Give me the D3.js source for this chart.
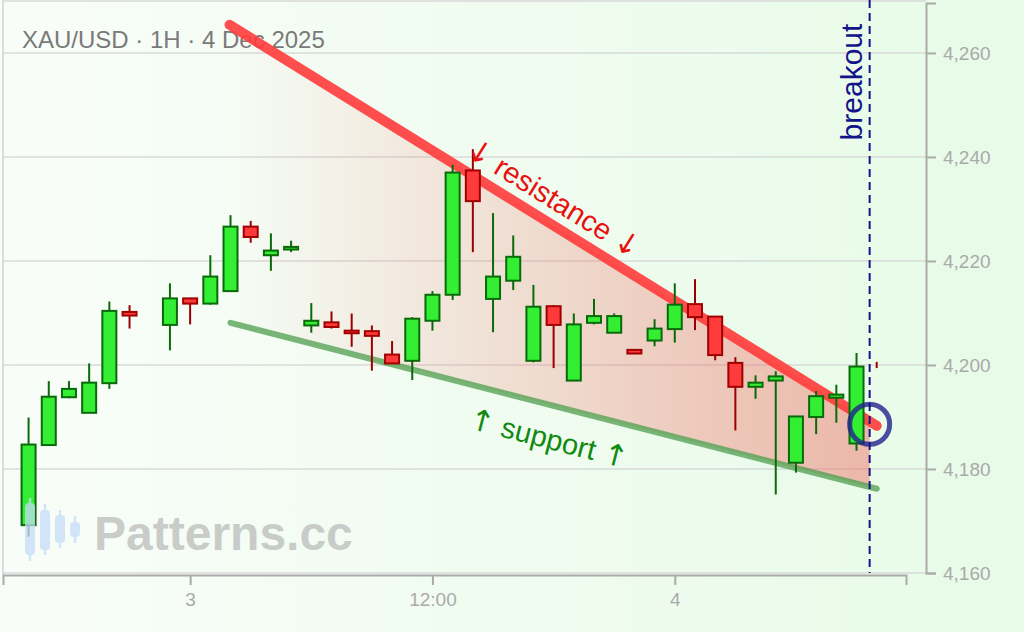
<!DOCTYPE html>
<html><head><meta charset="utf-8">
<script src="https://cdn.jsdelivr.net/npm/d3@7"></script>
<style>html,body{margin:0;padding:0;overflow:hidden;background:#f0fbf0}svg{display:block}</style>
</head><body>
<svg id="chart" width="1024" height="632"></svg>
<script>
// ---------- data ----------
const candleTimes = [
"2025-12-02T16:00Z","2025-12-02T17:00Z","2025-12-02T18:00Z","2025-12-02T19:00Z","2025-12-02T20:00Z","2025-12-02T21:00Z","2025-12-02T23:00Z",
"2025-12-03T00:00Z","2025-12-03T01:00Z","2025-12-03T02:00Z","2025-12-03T03:00Z","2025-12-03T04:00Z","2025-12-03T05:00Z",
"2025-12-03T06:00Z","2025-12-03T07:00Z","2025-12-03T08:00Z","2025-12-03T09:00Z","2025-12-03T10:00Z","2025-12-03T11:00Z",
"2025-12-03T12:00Z","2025-12-03T13:00Z","2025-12-03T14:00Z","2025-12-03T15:00Z","2025-12-03T16:00Z","2025-12-03T17:00Z",
"2025-12-03T18:00Z","2025-12-03T19:00Z","2025-12-03T20:00Z","2025-12-03T21:00Z","2025-12-03T22:00Z","2025-12-03T23:00Z",
"2025-12-04T00:00Z","2025-12-04T01:00Z","2025-12-04T02:00Z","2025-12-04T03:00Z","2025-12-04T04:00Z","2025-12-04T05:00Z",
"2025-12-04T06:00Z","2025-12-04T07:00Z","2025-12-04T08:00Z","2025-12-04T09:00Z","2025-12-04T10:00Z"];
const openVals  = [4169.2,4184.6,4193.8,4190.8,4196.5,4210.2,4207.7,
4212.8,4211.8,4214.2,4226.6,4221.1,4222.2,4207.6,4208.2,4206.6,4206.5,4202.0,4200.8,4208.5,4213.5,4237.4,4212.7,4216.2,4200.8,4211.3,4197.0,4208.1,4206.2,4202.9,4204.7,
4206.9,4211.7,4209.3,4200.4,4195.8,4197.0,4181.2,4190.0,4193.7,4184.9,4200.0];
const highVals  = [4189.9,4196.9,4196.9,4200.3,4212.2,4211.5,4215.7,
4212.9,4221.1,4228.8,4227.7,4225.3,4223.9,4211.9,4210.3,4209.9,4207.6,4204.6,4209.2,4214.2,4238.5,4241.5,4229.2,4224.9,4215.4,4211.5,4209.9,4212.7,4209.9,4202.9,4208.8,
4215.7,4216.5,4209.3,4201.5,4198.0,4198.8,4190.1,4195.0,4196.2,4202.3,4200.6];
const lowVals   = [4167.0,4184.6,4193.6,4190.8,4195.4,4207.0,4202.8,
4207.8,4211.6,4214.2,4223.5,4218.1,4221.7,4206.2,4207.0,4203.5,4198.9,4200.3,4197.1,4206.6,4212.5,4221.7,4206.3,4214.4,4200.5,4199.4,4197.0,4207.8,4206.2,4202.2,4203.6,
4204.3,4206.7,4200.9,4187.4,4193.5,4175.1,4179.3,4186.7,4188.9,4183.5,4199.4];
const closeVals = [4184.7,4193.9,4195.4,4196.6,4210.4,4209.5,4212.8,
4211.8,4217.0,4226.6,4224.6,4222.0,4222.7,4208.5,4207.3,4206.1,4205.6,4200.3,4208.9,4213.5,4237.0,4231.5,4217.0,4220.8,4211.2,4207.7,4207.8,4209.4,4209.4,4202.2,4207.0,
4211.6,4209.2,4201.9,4195.8,4196.6,4197.8,4190.1,4194.0,4194.3,4199.7,4200.0];

const resistanceTimes  = ["2025-12-03T01:57Z","2025-12-04T10:00Z"];
const resistancePrices = [4265.4, 4188.3];
const supportTimes     = ["2025-12-03T02:00Z","2025-12-04T10:00Z"];
const supportPrices    = [4208.1, 4176.2];
const breakoutTime  = "2025-12-04T09:39Z";
const breakoutPrice = 4188.6;

const priceTicks = [4160,4180,4200,4220,4240,4260];
const timeTicks  = ["2025-12-03T00:00Z","2025-12-03T12:00Z","2025-12-04T00:00Z"];
const timeTickLabels = ["3","12:00","4"];
const xDomain = ["2025-12-02T14:44Z","2025-12-04T11:27Z"];
const yDomain = [4160, 4269.6];

const titleText = "XAU/USD · 1H · 4 Dec 2025";

// ---------- setup ----------
const W = 1024, H = 632;
const svg = d3.select("#chart");
const FONT = "'Liberation Sans', Arial, sans-serif";
const ARROWFONT = "'DejaVu Sans', sans-serif";
const parse = s => new Date(s);

const x = d3.scaleUtc().domain(xDomain.map(parse)).range([3, 906]);
const y = d3.scaleLinear().domain(yDomain).range([573, 3]);

const defs = svg.append("defs");
const bg = defs.append("linearGradient").attr("id","bg").attr("x1",0).attr("x2",1).attr("y1",0).attr("y2",0);
bg.append("stop").attr("offset",0).attr("stop-color","#f9fdf9");
bg.append("stop").attr("offset",1).attr("stop-color","#e7fbe7");
const fillG = defs.append("linearGradient").attr("id","wedge").attr("gradientUnits","userSpaceOnUse")
  .attr("x1", x(parse(resistanceTimes[0]))).attr("x2", x(parse(breakoutTime))).attr("y1",0).attr("y2",0);
fillG.append("stop").attr("offset",0).attr("stop-color","#f05a50").attr("stop-opacity",0.0);
fillG.append("stop").attr("offset",1).attr("stop-color","#ee5a50").attr("stop-opacity",0.42);

svg.append("rect").attr("width",W).attr("height",H).attr("fill","url(#bg)");

// grid
svg.append("g").selectAll("line").data(priceTicks).join("line")
  .attr("x1",3).attr("x2",926).attr("y1",d=>y(d)).attr("y2",d=>y(d))
  .attr("stroke","#dadada").attr("stroke-width",1.5);
// frame left/top
svg.append("line").attr("x1",3).attr("x2",3).attr("y1",0).attr("y2",575).attr("stroke","#d0d0d0").attr("stroke-width",1.5);
svg.append("line").attr("x1",3).attr("x2",926).attr("y1",1).attr("y2",1).attr("stroke","#d8d8d8").attr("stroke-width",1.5);

// title
svg.append("text").attr("x",22).attr("y",48).attr("font-family",FONT).attr("font-size",24)
  .attr("fill","#7a7a7a").text(titleText);

// wedge fill
function lineAt(times, prices, t){
  const t0 = parse(times[0]).getTime(), t1 = parse(times[1]).getTime();
  const f = (t - t0)/(t1 - t0);
  return prices[0] + f*(prices[1]-prices[0]);
}
const wStart = parse(resistanceTimes[0]).getTime(), wEnd = parse(breakoutTime).getTime();
const poly = [
  [x(new Date(wStart)), y(lineAt(resistanceTimes,resistancePrices,wStart))],
  [x(new Date(wEnd)),   y(lineAt(resistanceTimes,resistancePrices,wEnd))],
  [x(new Date(wEnd)),   y(lineAt(supportTimes,supportPrices,wEnd))],
  [x(new Date(wStart)), y(lineAt(supportTimes,supportPrices,wStart))]
];
svg.append("path").attr("d","M"+poly.map(p=>p.join(",")).join("L")+"Z").attr("fill","url(#wedge)");

// trend lines
const lineGen = d3.line().x(d=>x(parse(d[0]))).y(d=>y(d[1]));
svg.append("path").attr("d", lineGen(resistanceTimes.map((t,i)=>[t,resistancePrices[i]])))
  .attr("stroke","#ff3b3b").attr("stroke-opacity",0.9).attr("stroke-width",10).attr("stroke-linecap","round").attr("fill","none");
svg.append("path").attr("d", lineGen(supportTimes.map((t,i)=>[t,supportPrices[i]])))
  .attr("stroke","#4e9e4e").attr("stroke-opacity",0.75).attr("stroke-width",6).attr("stroke-linecap","round").attr("fill","none");

// candles
const candles = candleTimes.map((t,i)=>({t:parse(t),o:openVals[i],h:highVals[i],l:lowVals[i],c:closeVals[i]}));
const bw = 14;
const cg = svg.append("g");
const cs = cg.selectAll("g").data(candles).join("g");
cs.append("line").attr("x1",d=>x(d.t)).attr("x2",d=>x(d.t)).attr("y1",d=>y(d.h)).attr("y2",d=>y(d.l))
  .attr("stroke",d=>d.c>d.o?"#0a6a0a":"#9a0000").attr("stroke-width",2);
cs.filter(d=>d.o!==d.c).append("rect")
  .attr("x",d=>x(d.t)-bw/2).attr("width",bw)
  .attr("y",d=>y(Math.max(d.o,d.c)))
  .attr("height",d=>Math.max(1, Math.abs(y(d.o)-y(d.c))))
  .attr("fill",d=>d.c>d.o?"#33ee33":"#ff3a3a")
  .attr("stroke",d=>d.c>d.o?"#0a6a0a":"#a00000").attr("stroke-width",2);

// labels along lines
function placeAlong(times, prices, t, off){
  const p0=[x(parse(times[0])),y(prices[0])], p1=[x(parse(times[1])),y(prices[1])];
  const ang = Math.atan2(p1[1]-p0[1], p1[0]-p0[0]);
  const px = p0[0]+t*(p1[0]-p0[0]), py = p0[1]+t*(p1[1]-p0[1]);
  return `translate(${px},${py}) rotate(${ang*180/Math.PI}) translate(0,${off})`;
}
function arrowLabel(transform, color, arrow, word){
  const t = svg.append("text").attr("transform", transform)
    .attr("text-anchor","middle").attr("font-family",FONT).attr("font-size",29).attr("fill",color);
  t.append("tspan").attr("font-family",ARROWFONT).attr("font-size",30).text(arrow);
  t.append("tspan").text(" " + word + " ");
  t.append("tspan").attr("font-family",ARROWFONT).attr("font-size",30).text(arrow);
}
arrowLabel(placeAlong(resistanceTimes,resistancePrices,0.482,-13), "#e81010", "↓", "resistance");
arrowLabel(placeAlong(supportTimes,supportPrices,0.505,43), "#108a10", "↑", "support");

// axes
const yAxis = svg.append("g").attr("transform","translate(926,0)")
  .call(d3.axisRight(y).tickValues(priceTicks).tickSize(10).tickSizeOuter(10).tickPadding(7).tickFormat(d3.format(",")));
const xAxis = svg.append("g").attr("transform","translate(0,575)")
  .call(d3.axisBottom(x).tickValues(timeTicks.map(parse)).tickSize(10).tickSizeOuter(10).tickPadding(8)
    .tickFormat((d,i)=>timeTickLabels[i]));
[yAxis,xAxis].forEach(a=>{
  a.selectAll("path,line").attr("stroke","#aaaaaa").attr("stroke-width",2);
  a.selectAll("text").attr("fill","#aaaaaa").attr("font-family",FONT).attr("font-size",19);
});

// breakout
const bx = x(parse(breakoutTime));
svg.append("circle").attr("cx",bx).attr("cy",y(breakoutPrice)).attr("r",20)
  .attr("fill","none").attr("stroke","#22228c").attr("stroke-opacity",0.8).attr("stroke-width",5);
svg.append("line").attr("x1",bx).attr("x2",bx).attr("y1",0).attr("y2",573)
  .attr("stroke","#14148a").attr("stroke-width",2).attr("stroke-dasharray","8,5");
svg.append("text").attr("transform",`translate(${bx-8},${82}) rotate(-90)`)
  .attr("text-anchor","middle").attr("font-family",FONT).attr("font-size",30).attr("fill","#14148a")
  .text("breakout");

// watermark
const logoBars = [[30,503,555,498,561],[45,510,550,504,555],[60,515,543,510,548],[75,522,537,516,543]];
const wm = svg.append("g").attr("opacity",0.75);
logoBars.forEach(b=>{
  wm.append("line").attr("x1",b[0]).attr("x2",b[0]).attr("y1",b[3]).attr("y2",b[4]).attr("stroke","#c4dcf8").attr("stroke-width",2.5);
  wm.append("rect").attr("x",b[0]-5).attr("width",10).attr("y",b[1]).attr("height",b[2]-b[1]).attr("rx",4).attr("fill","#c4dcf8");
});
svg.append("text").attr("x",94).attr("y",550).attr("font-family",FONT).attr("font-weight","bold")
  .attr("font-size",48).attr("fill","#c6c9c6").attr("fill-opacity",0.95).text("Patterns.cc");
</script>
</body></html>
